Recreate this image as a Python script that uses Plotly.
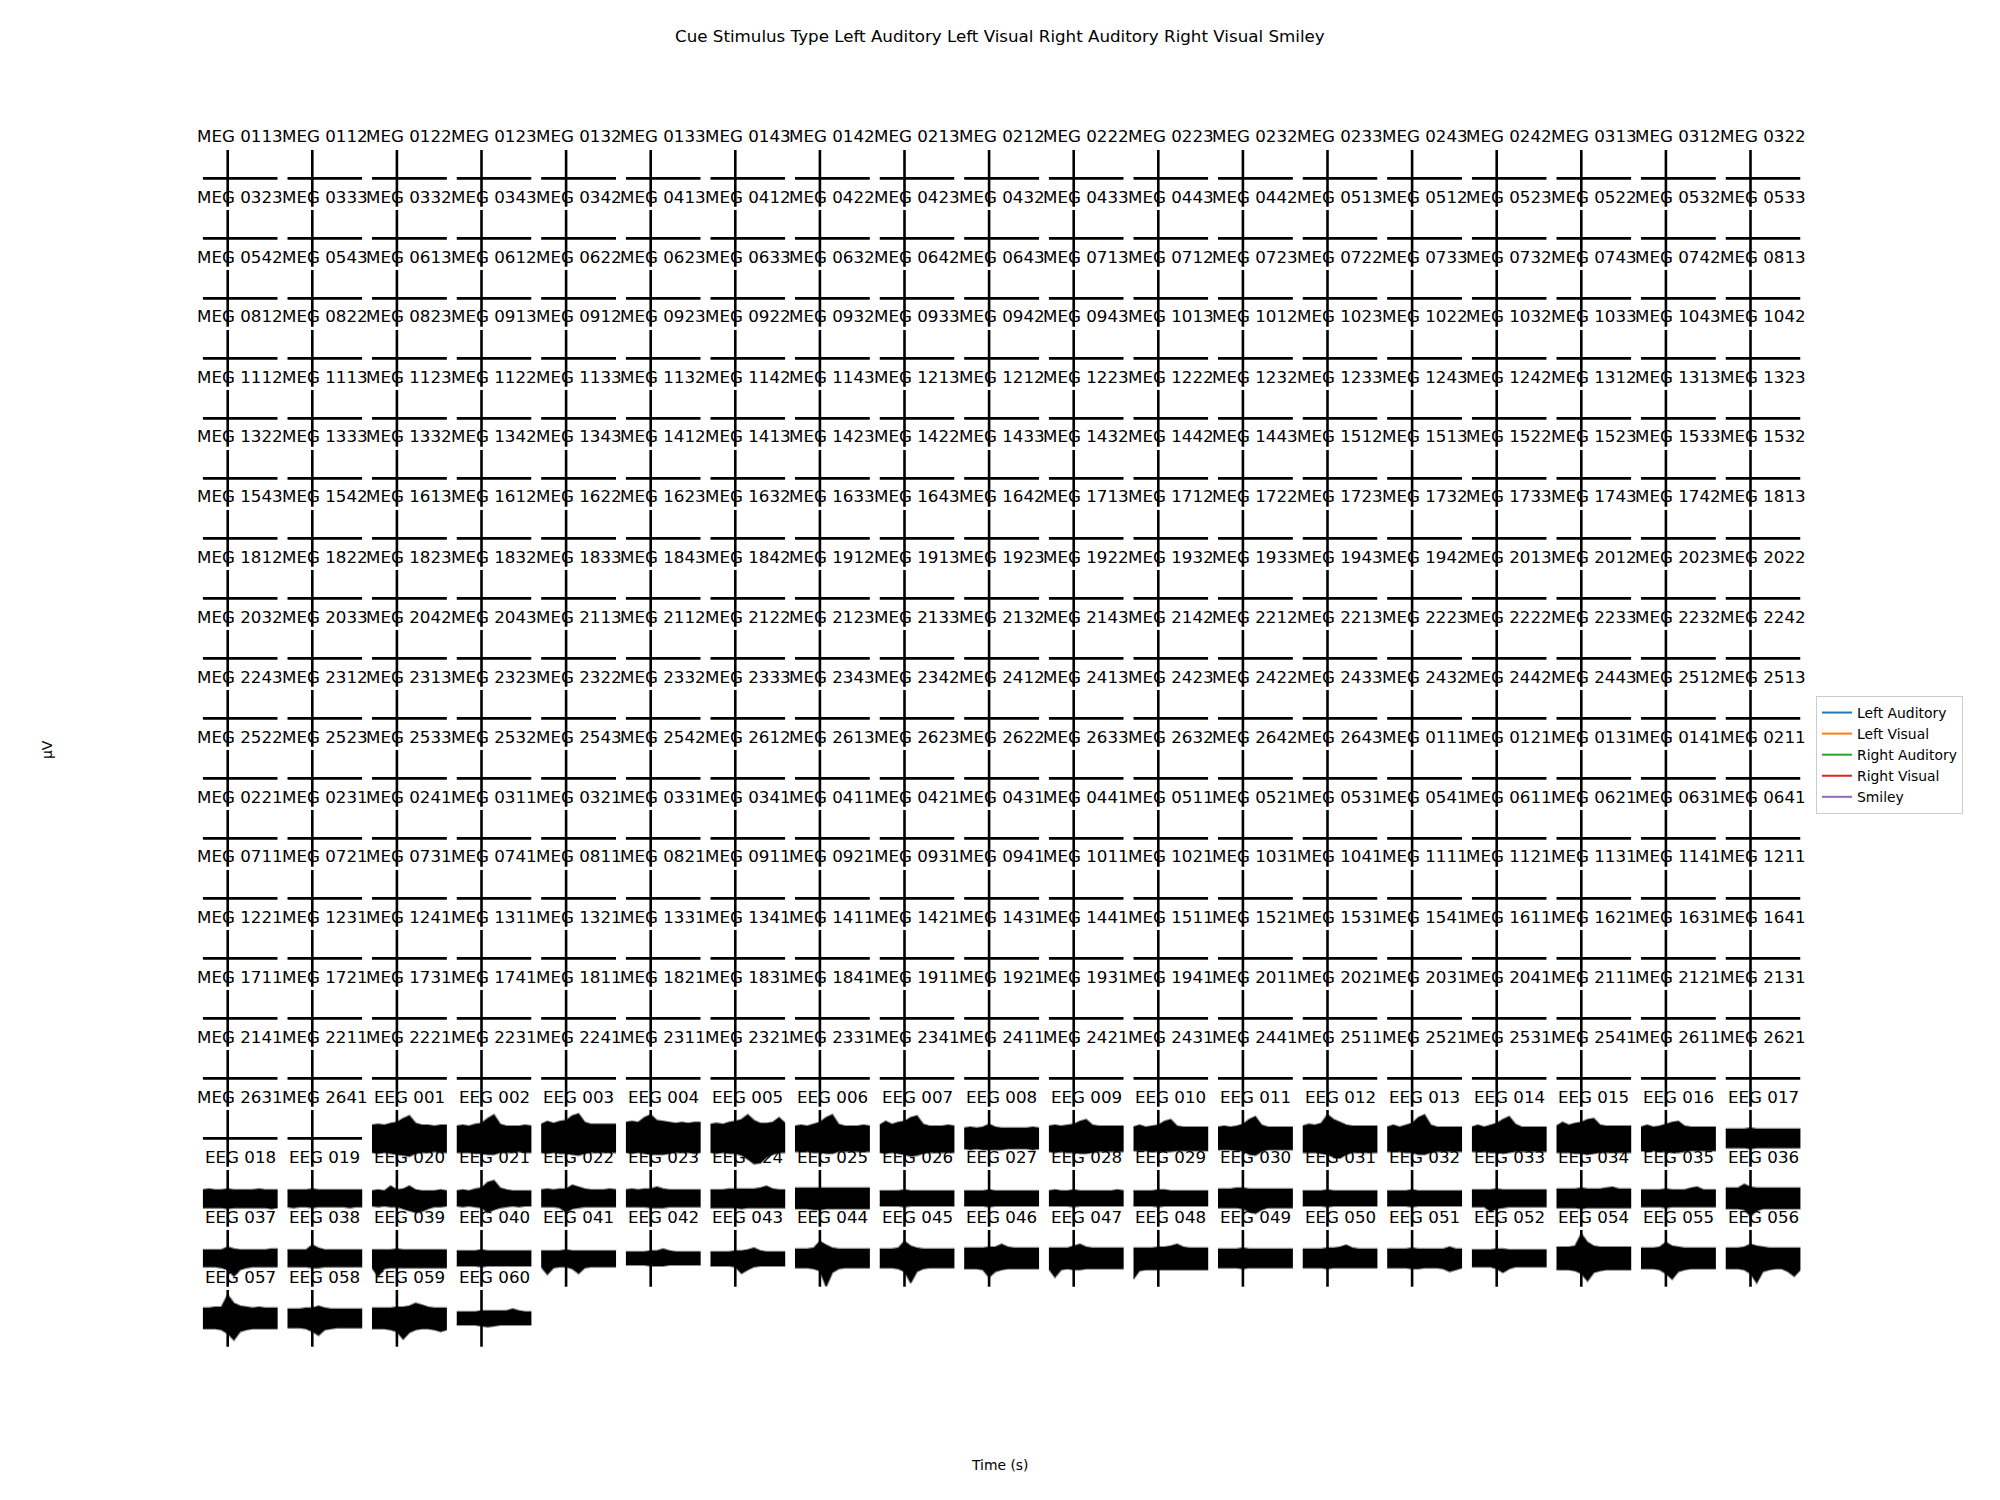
import plotly.graph_objects as go

# ---------------- data ----------------
TIMES = [-0.2, -0.15, -0.1, -0.05, 0.0, 0.05, 0.1, 0.15, 0.2, 0.25, 0.3, 0.35, 0.4]

CONDITIONS = ["Left Auditory", "Left Visual", "Right Auditory", "Right Visual", "Smiley"]

MEG_CHANNELS = [
    "MEG 0113", "MEG 0112", "MEG 0122", "MEG 0123", "MEG 0132", "MEG 0133", "MEG 0143", "MEG 0142", "MEG 0213", "MEG 0212", "MEG 0222", "MEG 0223", "MEG 0232", "MEG 0233", "MEG 0243", "MEG 0242", "MEG 0313", "MEG 0312", "MEG 0322",
    "MEG 0323", "MEG 0333", "MEG 0332", "MEG 0343", "MEG 0342", "MEG 0413", "MEG 0412", "MEG 0422", "MEG 0423", "MEG 0432", "MEG 0433", "MEG 0443", "MEG 0442", "MEG 0513", "MEG 0512", "MEG 0523", "MEG 0522", "MEG 0532", "MEG 0533",
    "MEG 0542", "MEG 0543", "MEG 0613", "MEG 0612", "MEG 0622", "MEG 0623", "MEG 0633", "MEG 0632", "MEG 0642", "MEG 0643", "MEG 0713", "MEG 0712", "MEG 0723", "MEG 0722", "MEG 0733", "MEG 0732", "MEG 0743", "MEG 0742", "MEG 0813",
    "MEG 0812", "MEG 0822", "MEG 0823", "MEG 0913", "MEG 0912", "MEG 0923", "MEG 0922", "MEG 0932", "MEG 0933", "MEG 0942", "MEG 0943", "MEG 1013", "MEG 1012", "MEG 1023", "MEG 1022", "MEG 1032", "MEG 1033", "MEG 1043", "MEG 1042",
    "MEG 1112", "MEG 1113", "MEG 1123", "MEG 1122", "MEG 1133", "MEG 1132", "MEG 1142", "MEG 1143", "MEG 1213", "MEG 1212", "MEG 1223", "MEG 1222", "MEG 1232", "MEG 1233", "MEG 1243", "MEG 1242", "MEG 1312", "MEG 1313", "MEG 1323",
    "MEG 1322", "MEG 1333", "MEG 1332", "MEG 1342", "MEG 1343", "MEG 1412", "MEG 1413", "MEG 1423", "MEG 1422", "MEG 1433", "MEG 1432", "MEG 1442", "MEG 1443", "MEG 1512", "MEG 1513", "MEG 1522", "MEG 1523", "MEG 1533", "MEG 1532",
    "MEG 1543", "MEG 1542", "MEG 1613", "MEG 1612", "MEG 1622", "MEG 1623", "MEG 1632", "MEG 1633", "MEG 1643", "MEG 1642", "MEG 1713", "MEG 1712", "MEG 1722", "MEG 1723", "MEG 1732", "MEG 1733", "MEG 1743", "MEG 1742", "MEG 1813",
    "MEG 1812", "MEG 1822", "MEG 1823", "MEG 1832", "MEG 1833", "MEG 1843", "MEG 1842", "MEG 1912", "MEG 1913", "MEG 1923", "MEG 1922", "MEG 1932", "MEG 1933", "MEG 1943", "MEG 1942", "MEG 2013", "MEG 2012", "MEG 2023", "MEG 2022",
    "MEG 2032", "MEG 2033", "MEG 2042", "MEG 2043", "MEG 2113", "MEG 2112", "MEG 2122", "MEG 2123", "MEG 2133", "MEG 2132", "MEG 2143", "MEG 2142", "MEG 2212", "MEG 2213", "MEG 2223", "MEG 2222", "MEG 2233", "MEG 2232", "MEG 2242",
    "MEG 2243", "MEG 2312", "MEG 2313", "MEG 2323", "MEG 2322", "MEG 2332", "MEG 2333", "MEG 2343", "MEG 2342", "MEG 2412", "MEG 2413", "MEG 2423", "MEG 2422", "MEG 2433", "MEG 2432", "MEG 2442", "MEG 2443", "MEG 2512", "MEG 2513",
    "MEG 2522", "MEG 2523", "MEG 2533", "MEG 2532", "MEG 2543", "MEG 2542", "MEG 2612", "MEG 2613", "MEG 2623", "MEG 2622", "MEG 2633", "MEG 2632", "MEG 2642", "MEG 2643", "MEG 0111", "MEG 0121", "MEG 0131", "MEG 0141", "MEG 0211",
    "MEG 0221", "MEG 0231", "MEG 0241", "MEG 0311", "MEG 0321", "MEG 0331", "MEG 0341", "MEG 0411", "MEG 0421", "MEG 0431", "MEG 0441", "MEG 0511", "MEG 0521", "MEG 0531", "MEG 0541", "MEG 0611", "MEG 0621", "MEG 0631", "MEG 0641",
    "MEG 0711", "MEG 0721", "MEG 0731", "MEG 0741", "MEG 0811", "MEG 0821", "MEG 0911", "MEG 0921", "MEG 0931", "MEG 0941", "MEG 1011", "MEG 1021", "MEG 1031", "MEG 1041", "MEG 1111", "MEG 1121", "MEG 1131", "MEG 1141", "MEG 1211",
    "MEG 1221", "MEG 1231", "MEG 1241", "MEG 1311", "MEG 1321", "MEG 1331", "MEG 1341", "MEG 1411", "MEG 1421", "MEG 1431", "MEG 1441", "MEG 1511", "MEG 1521", "MEG 1531", "MEG 1541", "MEG 1611", "MEG 1621", "MEG 1631", "MEG 1641",
    "MEG 1711", "MEG 1721", "MEG 1731", "MEG 1741", "MEG 1811", "MEG 1821", "MEG 1831", "MEG 1841", "MEG 1911", "MEG 1921", "MEG 1931", "MEG 1941", "MEG 2011", "MEG 2021", "MEG 2031", "MEG 2041", "MEG 2111", "MEG 2121", "MEG 2131",
    "MEG 2141", "MEG 2211", "MEG 2221", "MEG 2231", "MEG 2241", "MEG 2311", "MEG 2321", "MEG 2331", "MEG 2341", "MEG 2411", "MEG 2421", "MEG 2431", "MEG 2441", "MEG 2511", "MEG 2521", "MEG 2531", "MEG 2541", "MEG 2611", "MEG 2621",
    "MEG 2631", "MEG 2641",
]

# MEG sensors are flat (in µV) across the whole epoch
MEG_TRACE = [0.0, 0.0, 0.0, 0.0, 0.0, 0.0, 0.0, 0.0, 0.0, 0.0, 0.0, 0.0, 0.0]

EEG_CHANNELS = [
    "EEG 001", "EEG 002", "EEG 003", "EEG 004", "EEG 005", "EEG 006", "EEG 007", "EEG 008", "EEG 009", "EEG 010",
    "EEG 011", "EEG 012", "EEG 013", "EEG 014", "EEG 015", "EEG 016", "EEG 017", "EEG 018", "EEG 019", "EEG 020",
    "EEG 021", "EEG 022", "EEG 023", "EEG 024", "EEG 025", "EEG 026", "EEG 027", "EEG 028", "EEG 029", "EEG 030",
    "EEG 031", "EEG 032", "EEG 033", "EEG 034", "EEG 035", "EEG 036", "EEG 037", "EEG 038", "EEG 039", "EEG 040",
    "EEG 041", "EEG 042", "EEG 043", "EEG 044", "EEG 045", "EEG 046", "EEG 047", "EEG 048", "EEG 049", "EEG 050",
    "EEG 051", "EEG 052", "EEG 054", "EEG 055", "EEG 056", "EEG 057", "EEG 058", "EEG 059", "EEG 060",
]

# upper envelope of all epochs per EEG channel (µV)
EEG_UPPER = [
    [14, 15, 14, 16, 17, 21, 24, 16, 14, 14, 13, 14, 14],  # 001
    [13, 14, 13, 15, 16, 21, 25, 15, 13, 13, 13, 14, 13],  # 002
    [15, 18, 16, 18, 19, 24, 26, 17, 15, 15, 15, 15, 15],  # 003
    [17, 18, 17, 22, 25, 19, 18, 17, 16, 17, 16, 17, 17],  # 004
    [15, 16, 15, 17, 18, 20, 25, 19, 16, 16, 17, 22, 16],  # 005
    [13, 14, 13, 15, 17, 22, 25, 15, 13, 13, 13, 14, 13],  # 006
    [14, 18, 15, 17, 18, 22, 24, 15, 13, 13, 13, 14, 13],  # 007
    [11, 12, 11, 12, 15, 12, 11, 11, 11, 11, 11, 12, 11],  # 008
    [13, 14, 13, 14, 15, 18, 20, 14, 13, 13, 13, 13, 13],  # 009
    [12, 14, 12, 13, 14, 18, 20, 13, 12, 12, 12, 12, 12],  # 010
    [12, 13, 12, 13, 15, 20, 23, 14, 12, 12, 12, 12, 12],  # 011
    [13, 15, 14, 16, 25, 20, 17, 14, 13, 13, 13, 13, 13],  # 012
    [12, 14, 12, 14, 16, 22, 25, 14, 12, 12, 12, 12, 12],  # 013
    [12, 14, 12, 14, 16, 20, 23, 15, 12, 12, 12, 12, 12],  # 014
    [13, 17, 14, 16, 17, 20, 21, 14, 13, 13, 13, 13, 13],  # 015
    [12, 14, 12, 13, 15, 17, 18, 13, 12, 12, 12, 12, 12],  # 016
    [10, 10, 10, 10, 11, 10, 10, 10, 10, 10, 10, 10, 10],  # 017
    [9, 10, 9, 9, 10, 9, 9, 9, 9, 10, 9, 9, 9],            # 018
    [9, 9, 9, 9, 10, 9, 9, 9, 9, 9, 9, 9, 9],              # 019
    [8, 9, 8, 13, 9, 10, 13, 9, 8, 8, 8, 9, 8],            # 020
    [8, 9, 8, 10, 11, 17, 19, 11, 9, 8, 8, 8, 8],          # 021
    [9, 10, 9, 10, 10, 14, 12, 10, 9, 9, 9, 10, 9],        # 022
    [9, 10, 9, 10, 10, 12, 10, 9, 9, 9, 9, 9, 9],          # 023
    [9, 9, 9, 10, 10, 10, 10, 10, 11, 13, 10, 9, 9],       # 024
    [11, 11, 11, 11, 11, 11, 11, 11, 11, 11, 11, 11, 11],  # 025
    [8, 8, 8, 8, 9, 8, 8, 8, 8, 8, 8, 8, 8],               # 026
    [8, 8, 8, 8, 9, 8, 8, 8, 8, 8, 8, 8, 8],               # 027
    [8, 9, 8, 8, 9, 8, 8, 8, 8, 8, 8, 9, 8],               # 028
    [8, 8, 8, 8, 9, 9, 8, 8, 8, 8, 8, 8, 8],               # 029
    [10, 10, 10, 11, 11, 10, 10, 10, 10, 10, 10, 10, 10],  # 030
    [8, 8, 8, 8, 9, 8, 8, 8, 8, 8, 8, 8, 8],               # 031
    [8, 8, 8, 8, 9, 8, 8, 8, 8, 8, 8, 8, 8],               # 032
    [9, 9, 9, 9, 10, 9, 9, 9, 9, 9, 9, 9, 9],              # 033
    [10, 10, 10, 10, 11, 10, 10, 10, 11, 12, 10, 10, 10],  # 034
    [9, 9, 9, 9, 10, 9, 9, 9, 11, 12, 9, 9, 9],            # 035
    [11, 11, 11, 15, 12, 11, 11, 11, 11, 11, 11, 11, 11],  # 036
    [9, 9, 9, 9, 12, 10, 9, 9, 9, 9, 9, 10, 10],           # 037
    [9, 9, 9, 9, 14, 11, 9, 9, 9, 9, 9, 9, 9],             # 038
    [9, 9, 9, 9, 10, 9, 9, 9, 9, 9, 9, 9, 9],              # 039
    [8, 8, 8, 8, 9, 8, 8, 8, 8, 8, 8, 8, 8],               # 040
    [8, 8, 8, 8, 9, 8, 8, 8, 8, 8, 8, 8, 8],               # 041
    [7, 7, 7, 7, 8, 8, 10, 8, 7, 7, 7, 7, 7],              # 042
    [7, 7, 7, 7, 8, 8, 9, 11, 8, 7, 7, 7, 7],              # 043
    [10, 10, 10, 11, 18, 14, 11, 10, 10, 10, 10, 10, 10],  # 044
    [10, 10, 10, 11, 18, 13, 11, 10, 10, 10, 10, 10, 10],  # 045
    [11, 11, 11, 11, 12, 12, 15, 12, 11, 11, 11, 11, 11],  # 046
    [11, 11, 11, 11, 13, 15, 12, 11, 11, 11, 11, 11, 11],  # 047
    [11, 11, 11, 11, 12, 12, 13, 15, 12, 11, 11, 11, 11],  # 048
    [10, 10, 10, 10, 11, 10, 10, 10, 10, 10, 10, 10, 10],  # 049
    [10, 10, 10, 10, 11, 11, 12, 14, 11, 10, 10, 10, 10],  # 050
    [10, 10, 10, 10, 11, 10, 10, 10, 10, 10, 12, 10, 10],  # 051
    [9, 9, 9, 9, 10, 10, 9, 9, 9, 9, 9, 9, 9],             # 052
    [12, 12, 12, 13, 26, 17, 13, 12, 12, 12, 12, 12, 12],  # 054
    [11, 11, 11, 12, 17, 13, 12, 11, 11, 11, 11, 11, 11],  # 055
    [11, 11, 11, 12, 15, 13, 12, 11, 11, 11, 11, 11, 11],  # 056
    [11, 11, 12, 12, 25, 16, 13, 12, 11, 12, 11, 11, 11],  # 057
    [10, 10, 10, 11, 11, 13, 11, 10, 10, 10, 10, 10, 10],  # 058
    [11, 11, 11, 11, 12, 12, 13, 16, 14, 12, 11, 11, 11],  # 059
    [7, 7, 7, 7, 8, 8, 8, 8, 8, 10, 8, 7, 7],              # 060
]

# lower envelope of all epochs per EEG channel (µV)
EEG_LOWER = [
    [-15, -16, -15, -16, -17, -18, -19, -16, -15, -15, -14, -15, -15],  # 001
    [-15, -15, -15, -16, -16, -17, -17, -15, -15, -15, -14, -15, -15],  # 002
    [-15, -16, -15, -16, -16, -17, -18, -16, -15, -15, -15, -15, -15],  # 003
    [-15, -16, -15, -16, -17, -17, -17, -16, -15, -15, -15, -16, -15],  # 004
    [-15, -16, -15, -16, -16, -18, -22, -27, -26, -20, -17, -15, -15],  # 005
    [-14, -14, -14, -15, -15, -16, -16, -14, -14, -14, -14, -14, -14],  # 006
    [-15, -16, -15, -16, -17, -19, -18, -16, -15, -15, -15, -15, -15],  # 007
    [-11, -12, -11, -12, -12, -12, -12, -11, -11, -11, -11, -12, -11],  # 008
    [-14, -15, -14, -15, -15, -16, -16, -15, -14, -14, -14, -14, -14],  # 009
    [-13, -13, -13, -14, -14, -14, -14, -13, -13, -13, -13, -13, -13],  # 010
    [-12, -12, -12, -13, -13, -17, -18, -14, -12, -12, -12, -12, -12],  # 011
    [-15, -15, -15, -16, -17, -20, -21, -17, -15, -15, -15, -15, -15],  # 012
    [-14, -14, -14, -15, -15, -17, -17, -15, -14, -14, -14, -14, -14],  # 013
    [-14, -14, -14, -15, -15, -16, -15, -14, -14, -14, -14, -14, -14],  # 014
    [-15, -15, -15, -16, -16, -17, -16, -15, -15, -15, -15, -15, -15],  # 015
    [-13, -14, -13, -14, -14, -15, -15, -14, -13, -13, -13, -13, -13],  # 016
    [-10, -10, -10, -10, -11, -10, -10, -10, -10, -10, -10, -10, -10],  # 017
    [-10, -10, -10, -10, -11, -10, -10, -10, -10, -10, -10, -11, -10],  # 018
    [-9, -10, -9, -9, -10, -9, -9, -9, -9, -9, -10, -9, -9],            # 019
    [-8, -9, -8, -9, -9, -11, -13, -15, -14, -11, -9, -9, -8],          # 020
    [-8, -9, -8, -9, -10, -15, -12, -10, -9, -8, -9, -8, -8],           # 021
    [-9, -9, -9, -10, -15, -11, -10, -9, -9, -9, -9, -9, -9],           # 022
    [-9, -9, -9, -9, -10, -10, -10, -9, -9, -9, -9, -9, -9],            # 023
    [-10, -10, -10, -10, -10, -11, -10, -10, -10, -10, -10, -10, -10],  # 024
    [-11, -11, -11, -12, -12, -11, -11, -11, -11, -11, -11, -11, -11],  # 025
    [-8, -8, -8, -8, -9, -8, -8, -8, -8, -8, -8, -8, -8],               # 026
    [-8, -8, -8, -8, -9, -8, -8, -8, -8, -8, -8, -8, -8],               # 027
    [-8, -8, -8, -8, -9, -8, -8, -8, -8, -8, -8, -8, -8],               # 028
    [-8, -8, -8, -8, -9, -8, -8, -8, -8, -8, -8, -8, -8],               # 029
    [-10, -10, -10, -10, -11, -14, -16, -12, -10, -10, -10, -10, -10],  # 030
    [-8, -8, -8, -8, -9, -8, -8, -8, -8, -8, -8, -8, -8],               # 031
    [-8, -8, -8, -8, -9, -8, -8, -8, -8, -8, -8, -8, -8],               # 032
    [-9, -9, -9, -14, -11, -10, -9, -9, -9, -9, -9, -9, -9],            # 033
    [-10, -10, -10, -10, -11, -10, -10, -10, -10, -10, -10, -10, -10],  # 034
    [-9, -9, -9, -9, -10, -9, -9, -9, -9, -9, -9, -9, -9],              # 035
    [-11, -11, -11, -12, -19, -13, -11, -11, -11, -11, -11, -11, -11],  # 036
    [-9, -9, -9, -10, -12, -19, -12, -10, -9, -9, -9, -9, -9],          # 037
    [-9, -9, -9, -9, -10, -10, -9, -9, -9, -9, -9, -9, -9],             # 038
    [-10, -19, -11, -10, -10, -10, -10, -10, -10, -10, -10, -10, -10],  # 039
    [-8, -8, -8, -8, -9, -8, -8, -8, -8, -8, -8, -8, -8],               # 040
    [-9, -17, -10, -9, -9, -11, -16, -10, -9, -9, -9, -9, -9],          # 041
    [-7, -7, -7, -7, -8, -8, -8, -7, -7, -7, -7, -7, -7],               # 042
    [-8, -8, -8, -8, -9, -16, -12, -9, -8, -8, -8, -8, -8],             # 043
    [-10, -10, -10, -11, -13, -30, -15, -11, -10, -10, -10, -10, -10],  # 044
    [-10, -10, -10, -11, -14, -26, -14, -11, -10, -10, -10, -10, -10],  # 045
    [-11, -11, -11, -12, -20, -14, -12, -11, -11, -11, -11, -11, -11],  # 046
    [-11, -20, -12, -11, -12, -12, -11, -11, -11, -11, -11, -11, -11],  # 047
    [-22, -13, -12, -12, -12, -12, -12, -12, -12, -12, -12, -12, -12],  # 048
    [-10, -10, -10, -10, -11, -10, -10, -10, -10, -10, -10, -10, -10],  # 049
    [-10, -10, -10, -10, -11, -10, -10, -10, -10, -10, -10, -10, -10],  # 050
    [-10, -10, -10, -10, -11, -11, -10, -10, -10, -11, -14, -12, -10],  # 051
    [-9, -9, -9, -9, -11, -15, -11, -9, -9, -9, -9, -9, -9],            # 052
    [-12, -12, -12, -13, -16, -24, -15, -13, -12, -12, -12, -12, -12],  # 054
    [-11, -11, -11, -12, -16, -22, -14, -12, -11, -11, -11, -11, -11],  # 055
    [-11, -11, -11, -12, -16, -26, -14, -12, -11, -11, -14, -19, -12],  # 056
    [-11, -11, -11, -12, -16, -23, -14, -12, -11, -11, -11, -11, -11],  # 057
    [-10, -10, -10, -11, -14, -18, -12, -11, -10, -10, -10, -10, -10],  # 058
    [-11, -11, -11, -12, -14, -22, -15, -12, -11, -11, -12, -14, -12],  # 059
    [-7, -7, -7, -7, -8, -9, -8, -7, -7, -7, -7, -7, -7],               # 060
]

Y_RANGE = [-30, 30]

# ---------------- layout geometry (pixels) ----------------
W, H = 2000, 1500
N_COLS = 19
X0, COL_PITCH, AX_W = 202.7, 84.6, 75.0
Y0, ROW_PITCH, AX_H = 150.0, 60.0, 56.7
COND_COLORS = ["#1f77b4", "#ff7f0e", "#2ca02c", "#d62728", "#9467bd"]
FONT = "DejaVu Sans, Verdana, sans-serif"

channels = MEG_CHANNELS + EEG_CHANNELS
n_meg = len(MEG_CHANNELS)

traces = []
shapes = []
annotations = []
axes_layout = {}

for n, name in enumerate(channels):
    r, c = divmod(n, N_COLS)
    left = X0 + c * COL_PITCH
    top = Y0 + r * ROW_PITCH
    k = n + 1
    xid = "x" if k == 1 else f"x{k}"
    yid = "y" if k == 1 else f"y{k}"
    xkey = "xaxis" if k == 1 else f"xaxis{k}"
    ykey = "yaxis" if k == 1 else f"yaxis{k}"
    axes_layout[xkey] = dict(domain=[left / W, (left + AX_W) / W], range=[TIMES[0], TIMES[-1]],
                             visible=False, anchor=yid, fixedrange=True)
    axes_layout[ykey] = dict(domain=[1 - (top + AX_H) / H, 1 - top / H], range=Y_RANGE,
                             visible=False, anchor=xid, fixedrange=True)

    if n < n_meg:
        traces.append(go.Scatter(x=TIMES, y=MEG_TRACE, mode="lines",
                                 line=dict(color="black", width=2.6),
                                 xaxis=xid, yaxis=yid, showlegend=False, hoverinfo="skip"))
    else:
        e = n - n_meg
        up = EEG_UPPER[e]
        lo = EEG_LOWER[e]
        traces.append(go.Scatter(x=TIMES + TIMES[::-1], y=up + lo[::-1], mode="lines",
                                 fill="toself", fillcolor="rgb(0,0,0)",
                                 line=dict(color="rgba(0,0,0,0.45)", width=2.2),
                                 xaxis=xid, yaxis=yid, showlegend=False, hoverinfo="skip"))

    shapes.append(dict(type="line", xref=xid, yref=f"{yid} domain", x0=0, x1=0, y0=0, y1=1,
                       line=dict(color="black", width=2.6), layer="above"))
    annotations.append(dict(text=name, xref="paper", yref="paper",
                            x=(left + AX_W / 2) / W, y=1 - (top - 13.5) / H,
                            xanchor="center", yanchor="middle", showarrow=False,
                            font=dict(size=16.7, color="black", family=FONT)))

# legend entries
for cond, col in zip(CONDITIONS, COND_COLORS):
    traces.append(go.Scatter(x=[None], y=[None], mode="lines", name=cond,
                             line=dict(color=col, width=2), xaxis="x", yaxis="y"))

annotations.append(dict(text="Cue Stimulus Type Left Auditory Left Visual Right Auditory Right Visual Smiley",
                        xref="paper", yref="paper", x=0.5, y=1 - 36 / H, xanchor="center", yanchor="middle",
                        showarrow=False, font=dict(size=16.7, color="black", family=FONT)))
annotations.append(dict(text="Time (s)", xref="paper", yref="paper", x=0.5, y=1 - 1465 / H,
                        xanchor="center", yanchor="middle", showarrow=False,
                        font=dict(size=13.9, color="black", family=FONT)))
annotations.append(dict(text="µV", xref="paper", yref="paper", x=47 / W, y=1 - 750 / H,
                        xanchor="center", yanchor="middle", showarrow=False, textangle=-90,
                        font=dict(size=13.9, color="black", family=FONT)))

fig = go.Figure(data=traces)
fig.update_layout(
    width=W, height=H,
    margin=dict(l=0, r=0, t=0, b=0),
    paper_bgcolor="white", plot_bgcolor="white",
    font=dict(family=FONT, color="black"),
    showlegend=True,
    legend=dict(x=1816 / W, y=1 - 696 / H, xanchor="left", yanchor="top",
                bgcolor="white", bordercolor="#cccccc", borderwidth=1,
                font=dict(size=13.9, family=FONT, color="black"),
                itemwidth=30, tracegroupgap=0),
    shapes=shapes,
    annotations=annotations,
    **axes_layout,
)

fig.write_html("out.html")
